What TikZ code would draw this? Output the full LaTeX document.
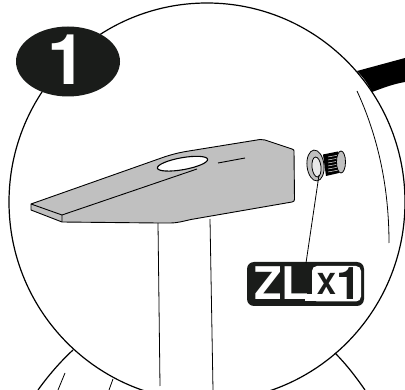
\documentclass[tikz,border=0pt]{standalone}
\usetikzlibrary{shapes.geometric}
\usepackage{fontspec}
\setmainfont{TeX Gyre Heros}
\definecolor{ink}{HTML}{1A1C1A}
\definecolor{plate}{HTML}{C0C0C0}
\tikzset{
  thin line/.style={draw=black,line width=0.8pt},
  thick line/.style={draw=black,line width=1.2pt},
  plate line/.style={draw=black,line width=0.9pt,line join=round},
}
\begin{document}
\begin{tikzpicture}[x=1pt,y=-1pt]
\useasboundingbox (0,0) rectangle (405,390);
\begin{scope}
\clip (0,0) rectangle (405,390);
% black band
\fill[black] (357,71) -- (405,58) -- (405,82) .. controls (393,84) and (383,88) .. (372,92) .. controls (368,84) and (363,77) .. cycle;
% big circle
\draw[thick line] (207,202) ellipse [x radius=198,y radius=199];
% inner arc
\draw[thin line] (357,91) .. controls (375,130) and (389,180) .. (389,243);
% lower body
\draw[thick line] (335,353) .. controls (346,364) and (356,377) .. (365,390);
\draw[thick line] (73,350) .. controls (60,362) and (48,376) .. (38,390);
\draw[thin line] (65,373) -- (58,390);
\draw[thin line] (113,379) -- (109,390);
% stem
\draw[thin line] (158,223) -- (160,386);
\draw[thin line] (210,219) -- (213,390);
\end{scope}
% plate
\path[plate line,fill=plate] (31,204) -- (31,210) -- (62,222) -- (158,223) -- (170,223) .. controls (178,223) and (184,221) .. (191,219.5) -- (292,202) .. controls (294,201.6) and (294.5,201) .. (294.5,199) -- (294,151) .. controls (294,150) and (293.5,149.5) .. (292,149) -- (265,140) .. controls (263,139.3) and (262,139.3) .. (260,139.5) -- (187,151.3) .. controls (178,152.8) and (172,154.5) .. (165,156.7) -- cycle;
\draw[plate line] (31,204) -- (62,215) -- (62,222);
\draw[plate line] (62,215) -- (197,169);
\draw[plate line] (218,163) -- (245,158);
\draw[draw=black,line width=1.1pt,fill=white] (182.5,163.7) ellipse [x radius=25.5,y radius=6,rotate=10];
% rivet
\fill[black] (323,154.5) -- (338,151.5) -- (339,173) -- (326,176) -- cycle;
\foreach \yy in {157,160,163,166,169,172}
  \draw[white,line width=0.45pt] (328,\yy) -- (339,\yy-2);
\draw[thin line,fill=plate] (341,162) ellipse [x radius=4.5,y radius=11];
\draw[thin line,fill=plate] (315.5,165.5) ellipse [x radius=8.5,y radius=15.5,rotate=6];
\draw[thin line,fill=plate!35!white] (316.5,167) ellipse [x radius=4.5,y radius=10,rotate=6];
% leader
\coordinate (leadtop) at (319,175);
% badge
\node[fill=ink,ellipse,minimum width=104pt,minimum height=70pt,inner sep=0pt,draw=none] (badge) at (68,61.5) {};
\node[text=white,font=\bfseries\fontsize{70}{70}\selectfont,inner sep=0pt,anchor=base] (one) at (66.5,85) {1};
% label
\fill[ink,rounded corners=7pt] (247,262) rectangle (364,306);
\fill[white,rounded corners=5pt] (312,266) rectangle (361,301.5);
\fill[white] (305,294.5) rectangle (316,301.5);
\node[text=white,font=\bfseries\fontsize{45}{45}\selectfont,inner sep=0pt,anchor=base] (zl) at (281.5,300) {ZL};
\node[text=ink,font=\bfseries\fontsize{45}{45}\selectfont,inner sep=0pt,anchor=base west] (count) at (316.5,300) {\raisebox{5pt}{\fontsize{29}{29}\selectfont X}1};
\coordinate (labeltop) at (306,263);
\draw[thin line] (leadtop) -- (labeltop);
\end{tikzpicture}
\end{document}
